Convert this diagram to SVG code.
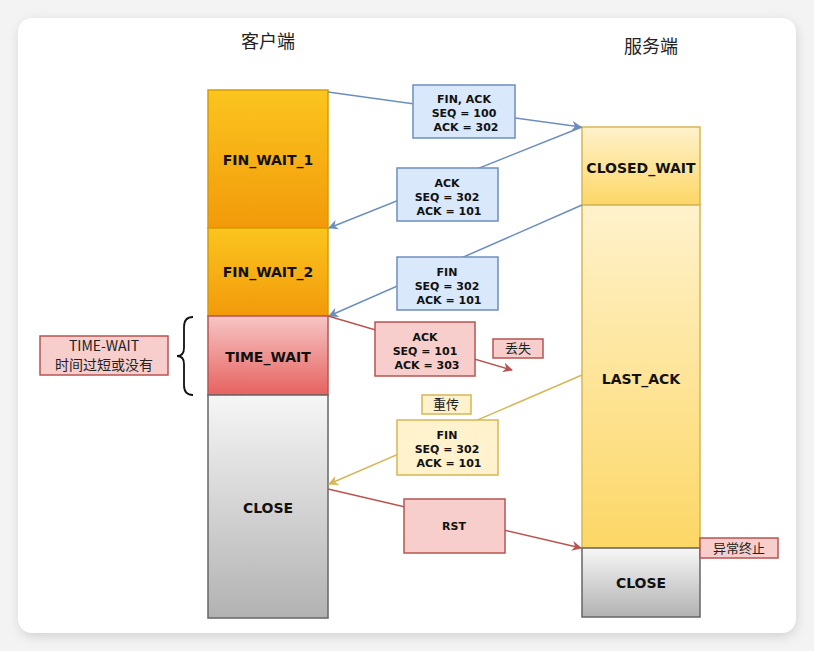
<svg xmlns="http://www.w3.org/2000/svg" width="814" height="651" viewBox="0 0 814 651">
<defs>
  <linearGradient id="gOrange" x1="0" y1="0" x2="0" y2="1"><stop offset="0" stop-color="#fbc51f"/><stop offset="1" stop-color="#f29a0a"/></linearGradient>
  <linearGradient id="gRed" x1="0" y1="0" x2="0" y2="1"><stop offset="0" stop-color="#f6c6c5"/><stop offset="1" stop-color="#e6625f"/></linearGradient>
  <linearGradient id="gGray" x1="0" y1="0" x2="0" y2="1"><stop offset="0" stop-color="#f6f6f6"/><stop offset="1" stop-color="#b2b2b2"/></linearGradient>
  <linearGradient id="gYellow" x1="0" y1="0" x2="0" y2="1"><stop offset="0" stop-color="#fff2cc"/><stop offset="1" stop-color="#fcd766"/></linearGradient>
  <filter id="shadow" x="-10%" y="-10%" width="120%" height="120%"><feGaussianBlur stdDeviation="6"/></filter>
  <marker id="aBlue" viewBox="0 0 10 10" refX="9" refY="5" markerWidth="10" markerHeight="10" markerUnits="userSpaceOnUse" orient="auto"><path d="M0,0 L10,5 L0,10 L3,5 Z" fill="#6c8ebf"/></marker>
  <marker id="aRed" viewBox="0 0 10 10" refX="9" refY="5" markerWidth="10" markerHeight="10" markerUnits="userSpaceOnUse" orient="auto"><path d="M0,0 L10,5 L0,10 L3,5 Z" fill="#b85450"/></marker>
  <marker id="aYellow" viewBox="0 0 10 10" refX="9" refY="5" markerWidth="10" markerHeight="10" markerUnits="userSpaceOnUse" orient="auto"><path d="M0,0 L10,5 L0,10 L3,5 Z" fill="#d6b656"/></marker>
</defs>
<style>
  .state { font-family: "DejaVu Sans", "Liberation Sans", sans-serif; font-weight: bold; font-size: 14px; fill: #111; text-anchor: middle; dominant-baseline: central; }
  .msg { font-family: "DejaVu Sans", "Liberation Sans", sans-serif; font-weight: bold; font-size: 11px; fill: #111; text-anchor: middle; }
  .title { font-family: "Noto Sans CJK SC", "Noto Sans", sans-serif; font-size: 18px; fill: #222; text-anchor: middle; }
  .note { font-family: "Noto Sans CJK SC", "Liberation Sans", sans-serif; font-size: 13px; fill: #222; text-anchor: middle; }
  .note2 { font-family: "Noto Sans CJK SC", "Liberation Sans", sans-serif; font-size: 14px; fill: #222; text-anchor: middle; }
  .blueBox { fill: #dae8fc; stroke: #6c8ebf; stroke-width: 1.5; }
  .redBox { fill: #f8cecc; stroke: #b85450; stroke-width: 1.5; }
  .yellowBox { fill: #fff2cc; stroke: #d6b656; stroke-width: 1.5; }
  .lBlue { stroke: #6c8ebf; stroke-width: 1.5; fill: none; marker-end: url(#aBlue); }
  .lRed { stroke: #b85450; stroke-width: 1.5; fill: none; marker-end: url(#aRed); }
  .lYellow { stroke: #d6b656; stroke-width: 1.5; fill: none; marker-end: url(#aYellow); }
</style>
<rect x="0" y="0" width="814" height="651" fill="#f3f3f3"/>
<rect x="20" y="22" width="776" height="614" rx="14" fill="#cfcfcf" filter="url(#shadow)"/>
<rect x="18" y="18" width="778" height="615" rx="14" fill="#ffffff"/>

<text class="title" x="268" y="48">客户端</text>
<text class="title" x="651" y="53">服务端</text>

<g id="client-fin-wait-1"><rect x="208" y="90" width="120" height="138" fill="url(#gOrange)" stroke="#d79b00" stroke-width="1.5"/><text class="state" x="268" y="160">FIN_WAIT_1</text></g>
<g id="client-fin-wait-2"><rect x="208" y="228" width="120" height="88" fill="url(#gOrange)" stroke="#d79b00" stroke-width="1.5"/><text class="state" x="268" y="272">FIN_WAIT_2</text></g>
<g id="client-time-wait"><rect x="208" y="316" width="120" height="79" fill="url(#gRed)" stroke="#b85450" stroke-width="1.5"/><text class="state" x="268" y="357">TIME_WAIT</text></g>
<g id="client-close"><rect x="208" y="395" width="120" height="223" fill="url(#gGray)" stroke="#666666" stroke-width="1.5"/><text class="state" x="268" y="508">CLOSE</text></g>

<g id="server-closed-wait"><rect x="582" y="127" width="118" height="78" fill="url(#gYellow)" stroke="#d6b656" stroke-width="1.5"/><text class="state" x="641" y="168">CLOSED_WAIT</text></g>
<g id="server-last-ack"><rect x="582" y="205" width="118" height="343" fill="url(#gYellow)" stroke="#d6b656" stroke-width="1.5"/><text class="state" x="641" y="379">LAST_ACK</text></g>
<g id="server-close"><rect x="582" y="548" width="118" height="69" fill="url(#gGray)" stroke="#666666" stroke-width="1.5"/><text class="state" x="641" y="583">CLOSE</text></g>

<g id="connectors">
  <line class="lBlue" x1="328" y1="92" x2="581" y2="127"/>
  <line class="lBlue" x1="582" y1="127" x2="329" y2="228"/>
  <line class="lBlue" x1="582" y1="205" x2="329" y2="316"/>
  <line class="lRed" x1="328" y1="316" x2="512" y2="370"/>
  <line class="lYellow" x1="582" y1="375" x2="329" y2="484"/>
  <line class="lRed" x1="328" y1="489" x2="581" y2="548"/>
  <path d="M193,317 Q184,317 184,327 L184,348 Q184,356 177,356 Q184,356 184,364 L184,385 Q184,395 193,395" fill="none" stroke="#111" stroke-width="1.8"/>
</g>

<g id="msg-fin-ack"><rect class="blueBox" x="413" y="85" width="102" height="53"/>
  <text class="msg" x="464" y="103">FIN, ACK</text><text class="msg" x="464" y="117">SEQ = 100</text><text class="msg" x="466" y="131">ACK = 302</text></g>
<g id="msg-ack-1"><rect class="blueBox" x="397" y="168" width="101" height="53"/>
  <text class="msg" x="447" y="187">ACK</text><text class="msg" x="447" y="201">SEQ = 302</text><text class="msg" x="449" y="215">ACK = 101</text></g>
<g id="msg-fin-1"><rect class="blueBox" x="397" y="257" width="101" height="53"/>
  <text class="msg" x="447" y="276">FIN</text><text class="msg" x="447" y="290">SEQ = 302</text><text class="msg" x="449" y="304">ACK = 101</text></g>
<g id="msg-ack-2"><rect class="redBox" x="375" y="322" width="100" height="54"/>
  <text class="msg" x="425" y="341">ACK</text><text class="msg" x="425" y="355">SEQ = 101</text><text class="msg" x="427" y="369">ACK = 303</text></g>
<g id="label-lost"><rect class="redBox" x="493" y="339" width="50" height="19" stroke-width="1"/><text class="note" x="518" y="353">丢失</text></g>
<g id="label-retrans"><rect class="yellowBox" x="422" y="395" width="49" height="19" stroke-width="1"/><text class="note" x="446" y="409">重传</text></g>
<g id="msg-fin-2"><rect class="yellowBox" x="397" y="420" width="101" height="55"/>
  <text class="msg" x="447" y="439">FIN</text><text class="msg" x="447" y="453">SEQ = 302</text><text class="msg" x="449" y="467">ACK = 101</text></g>
<g id="msg-rst"><rect class="redBox" x="404" y="499" width="101" height="54"/><text class="msg" x="454" y="530">RST</text></g>
<g id="label-abort"><rect class="redBox" x="700" y="538" width="78" height="20" stroke-width="1"/><text class="note" x="739" y="553">异常终止</text></g>
<g id="label-time-wait"><rect class="redBox" x="40" y="336" width="128" height="39" stroke-width="1"/>
  <text class="note2" x="104" y="351">TIME-WAIT</text><text class="note2" x="104" y="370">时间过短或没有</text></g>
</svg>
